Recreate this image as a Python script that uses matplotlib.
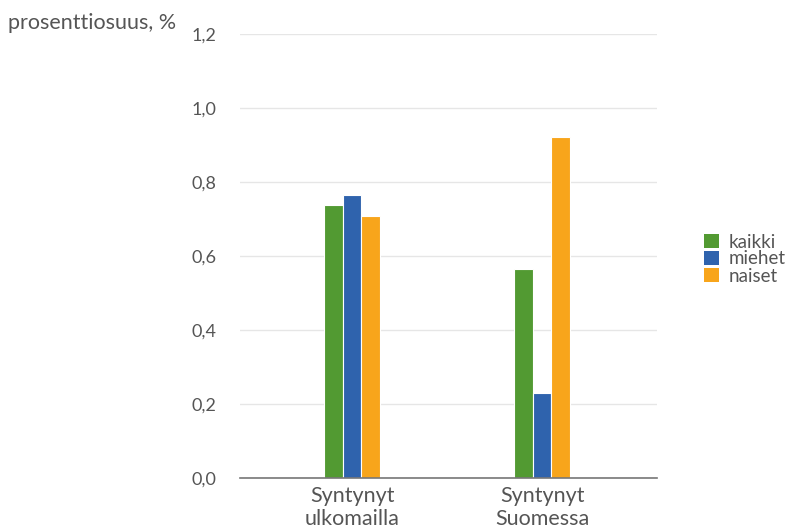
import matplotlib
matplotlib.use("Agg")
import matplotlib.pyplot as plt
import numpy as np
from matplotlib.patches import Patch

categories = ["Syntynyt\nulkomailla", "Syntynyt\nSuomessa"]
series_names = ["kaikki", "miehet", "naiset"]
kaikki = [0.738, 0.565]
miehet = [0.765, 0.230]
naiset = [0.708, 0.922]
yticks = [0.0, 0.2, 0.4, 0.6, 0.8, 1.0, 1.2]
ytick_labels = ["0,0", "0,2", "0,4", "0,6", "0,8", "1,0", "1,2"]
colors = ["#529a32", "#2f63ad", "#f8a51b"]

plt.rcParams['font.family'] = ['Lato', 'DejaVu Sans']
txt = "#555555"

fig = plt.figure(figsize=(7.9, 5.31), dpi=100)
ax = fig.add_axes([240/790, 1-478/531, 417/790, 444/531])

x = np.arange(len(categories))
w = 0.098
for i, (vals, c) in enumerate(zip([kaikki, miehet, naiset], colors)):
    ax.bar(x + (i-1)*w, vals, width=w, color=c, edgecolor="white", linewidth=0.8, zorder=3)

ax.set_xlim(-0.59, 1.605)
ax.set_ylim(0, 1.2)
ax.set_yticks(yticks)
ax.set_yticklabels(ytick_labels, fontsize=13, color=txt)
ax.set_xticks(x)
ax.set_xticklabels(categories, fontsize=15.5, color=txt, linespacing=1.15)
ax.tick_params(axis='both', length=0)
ax.tick_params(axis='y', pad=17)
ax.tick_params(axis='x', pad=6)
ax.grid(axis='y', color="#e6e6e6", linewidth=1, zorder=0)
for s in ["top", "right", "left"]:
    ax.spines[s].set_visible(False)
ax.spines["bottom"].set_color("#777777")
ax.spines["bottom"].set_linewidth(1.2)
ax.spines["bottom"].set_zorder(4)

fig.text(8/790, 1-23/531, "prosenttiosuus, %", fontsize=15.5, color=txt, va="center", ha="left")

handles = [Patch(facecolor=c, edgecolor="none") for c in colors]
leg = fig.legend(handles, series_names, loc="center left", bbox_to_anchor=(704/790, 1-259/531),
                 frameon=False, fontsize=13.5, labelspacing=0.0, handlelength=0.78, handleheight=0.78,
                 handletextpad=0.55, borderaxespad=0, borderpad=0)
for t in leg.get_texts():
    t.set_color(txt)

fig.savefig("out.png", dpi=100)
